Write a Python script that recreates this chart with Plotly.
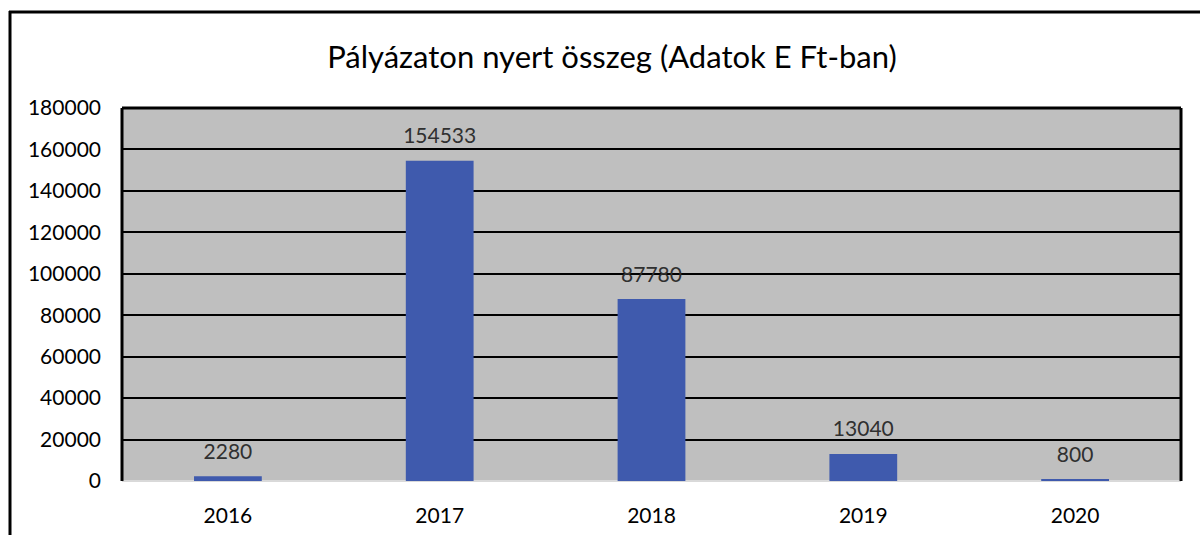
import plotly.graph_objects as go

years = ["2016", "2017", "2018", "2019", "2020"]
values = [2280, 154533, 87780, 13040, 800]
labels = ["2280", "154533", "87780", "13040", "800"]
title = "Pályázaton nyert összeg (Adatok E Ft-ban)"

W, H = 1200, 535
L, R, T, B = 122, 19, 108, 54
pw = W - L - R
ph = H - T - B
FONT = "Lato, Open Sans, sans-serif"

fig = go.Figure()
fig.add_trace(go.Bar(
    x=years, y=values,
    marker=dict(color="#3f5aad", line=dict(width=0)),
))
fig.add_trace(go.Scatter(
    x=years, y=values, text=labels, mode="markers+text", textposition="top center",
    marker=dict(size=18, opacity=0),
    textfont=dict(family=FONT, size=21, color="#303030"),
    cliponaxis=False, hoverinfo="skip",
))

def px_x(p):
    return (p - L) / pw

def px_y(p):
    return (H - B - p) / ph

shapes = [
    dict(type="line", xref="paper", yref="paper", x0=px_x(10), x1=px_x(10), y0=px_y(11), y1=px_y(540),
         line=dict(color="black", width=3)),
    dict(type="line", xref="paper", yref="paper", x0=px_x(9), x1=px_x(1205), y0=px_y(12), y1=px_y(12),
         line=dict(color="black", width=3)),
    dict(type="line", xref="paper", yref="paper", x0=0, x1=0, y0=0, y1=1, line=dict(color="black", width=3)),
    dict(type="line", xref="paper", yref="paper", x0=1, x1=1, y0=0, y1=1, line=dict(color="black", width=3)),
    dict(type="line", xref="paper", yref="paper", x0=0, x1=1, y0=1, y1=1, line=dict(color="black", width=3)),
]

fig.update_layout(
    width=W, height=H,
    margin=dict(l=L, r=R, t=T, b=B),
    paper_bgcolor="white",
    plot_bgcolor="#bfbfbf",
    bargap=0.68,
    showlegend=False,
    title=dict(text=title, x=0.51, xanchor="center", y=1 - 57 / H, yanchor="middle",
               font=dict(family=FONT, size=31, color="black")),
    font=dict(family=FONT, size=20, color="black"),
    shapes=shapes,
    xaxis=dict(type="category", showgrid=False, showline=False, ticks="", tickfont=dict(size=21),
               ticklabelstandoff=20, automargin=False),
    yaxis=dict(range=[0, 180000], dtick=20000, showgrid=True, gridcolor="black", gridwidth=2,
               zeroline=True, zerolinecolor="#d9d9d9", zerolinewidth=2, showline=False,
               tickformat="d", tickfont=dict(size=21), ticklabelstandoff=20, automargin=False),
)

fig.write_html("out.html", config={"displayModeBar": False},
               post_script="document.body.style.margin='0';")
